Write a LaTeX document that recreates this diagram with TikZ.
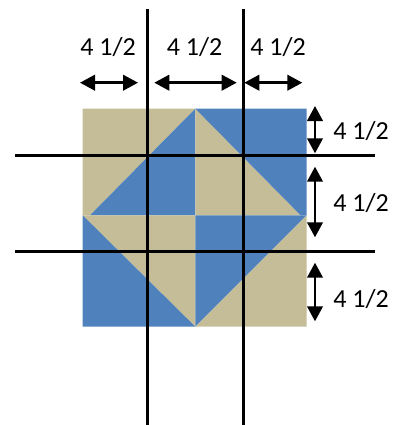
\documentclass[tikz,border=0pt]{standalone}
\usepackage{fontspec}
\setmainfont{Carlito}
\usetikzlibrary{arrows.meta}
\definecolor{quiltblue}{HTML}{4F81BD}
\definecolor{quilttan}{HTML}{C4BD97}
\tikzset{
  bluepatch/.style={fill=quiltblue,draw=none},
  tanpatch/.style={fill=quilttan,draw=none},
  gridline/.style={draw=black,line width=3pt},
  dimarrow/.style={draw=black,line width=2.5pt,{Triangle[length=15pt,width=15.5pt]}-{Triangle[length=15pt,width=15.5pt]},shorten >=0pt,shorten <=0pt},
  dimlabel/.style={font=\fontsize{26}{30}\selectfont,inner sep=0pt,text=black}
}
\begin{document}
\begin{tikzpicture}[x=1pt,y=-1pt]
\useasboundingbox (0,0) rectangle (393,425);
% patches
\fill[tanpatch] (82.7,108.7) -- (195.3,108.7) -- (90,215.3) -- (82.7,215.3) -- cycle;
\fill[bluepatch] (195.3,108.7) -- (90,215.3) -- (195.3,215.3) -- cycle;
\fill[tanpatch] (195.3,108.7) -- (195.3,215.3) -- (300.7,215.3) -- cycle;
\fill[bluepatch] (195.3,108.7) -- (306.7,108.7) -- (306.7,215.3) -- (300.7,215.3) -- cycle;
\fill[tanpatch] (82.7,215.3) -- (195.3,215.3) -- (195.3,326.7) -- cycle;
\fill[bluepatch] (82.7,215.3) -- (82.7,326.7) -- (195.3,326.7) -- cycle;
\fill[bluepatch] (195.3,215.3) -- (306.7,215.3) -- (195.3,326.7) -- cycle;
\fill[tanpatch] (306.7,215.3) -- (306.7,326.7) -- (195.3,326.7) -- cycle;
% grid lines
\coordinate (v1a) at (147,9); \coordinate (v1b) at (147,425);
\coordinate (v2a) at (243,9); \coordinate (v2b) at (243,425);
\coordinate (h1a) at (15,155); \coordinate (h1b) at (375,155);
\coordinate (h2a) at (15,251); \coordinate (h2b) at (375,251);
\draw[gridline] (v1a) -- (v1b);
\draw[gridline] (v2a) -- (v2b);
\draw[gridline] (h1a) -- (h1b);
\draw[gridline] (h2a) -- (h2b);
% top dimensions
\coordinate (t1a) at (80,82.7); \coordinate (t1b) at (138,82.7);
\coordinate (t2a) at (154.3,82.7); \coordinate (t2b) at (236.7,82.7);
\coordinate (t3a) at (244.3,82.7); \coordinate (t3b) at (302.3,82.7);
\draw[dimarrow] (t1a) -- (t1b);
\draw[dimarrow] (t2a) -- (t2b);
\draw[dimarrow] (t3a) -- (t3b);
% right dimensions
\coordinate (r1a) at (315,106); \coordinate (r1b) at (315,153.3);
\coordinate (r2a) at (315,166.7); \coordinate (r2b) at (315,237.3);
\coordinate (r3a) at (315,262.7); \coordinate (r3b) at (315,321.3);
\draw[dimarrow] (r1a) -- (r1b);
\draw[dimarrow] (r2a) -- (r2b);
\draw[dimarrow] (r3a) -- (r3b);
% labels
\node[dimlabel] (lt1) at (108,47.5) {4 1/2};
\node[dimlabel] (lt2) at (194.5,47.5) {4 1/2};
\node[dimlabel] (lt3) at (278,47.5) {4 1/2};
\node[dimlabel] (lr1) at (361,131.5) {4 1/2};
\node[dimlabel] (lr2) at (361,203) {4 1/2};
\node[dimlabel] (lr3) at (361,299) {4 1/2};
\end{tikzpicture}
\end{document}
